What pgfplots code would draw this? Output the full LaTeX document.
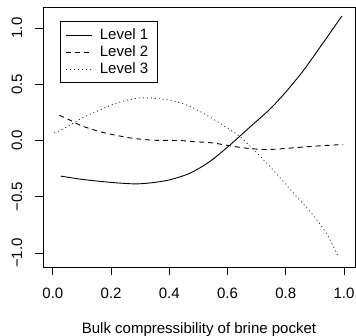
\documentclass[border=0pt]{standalone}
\usepackage{pgfplots}
\pgfplotsset{compat=1.18}
\usepackage{fontspec}
\setmainfont{Liberation Sans}
\begin{document}
\fontsize{15bp}{17bp}\selectfont
\begin{tikzpicture}
\path[use as bounding box] (-43bp,-69bp) rectangle (313bp,267bp);
\begin{axis}[
  at={(0,0)}, anchor=south west,
  scale only axis, width=312bp, height=260bp,
  xmin=-0.034, xmax=1.038, ymin=-1.124, ymax=1.187,
  axis line style={line width=0.8bp},
  tick pos=left, tick align=outside,
  major tick length=8bp,
  every tick/.style={black, line width=0.8bp},
  xtick={0,0.2,0.4,0.6,0.8,1.0},
  xticklabels={0.0,0.2,0.4,0.6,0.8,1.0},
  ytick={-1,-0.5,0,0.5,1},
  yticklabels={−1.0,−0.5,0.0,0.5,1.0},
  xticklabel style={font=\fontsize{15bp}{17bp}\selectfont, anchor=center, yshift=-18bp},
  yticklabel style={font=\fontsize{15bp}{17bp}\selectfont, xshift=-18bp, rotate=90, anchor=center},
  xlabel={Bulk compressibility of brine pocket},
  xlabel style={font=\fontsize{15bp}{17bp}\selectfont, at={(axis description cs:0.5,0)}, anchor=base, yshift=-66bp},
  legend cell align=left,
  legend style={at={(rel axis cs:0.053,0.946)}, anchor=north west, draw=black, line width=0.8bp,
    font=\fontsize{15bp}{17bp}\selectfont, inner xsep=6bp, inner ysep=7bp, row sep=4bp, column sep=4bp,
    nodes={inner xsep=3bp, inner ysep=0bp}},
  legend image code/.code={\draw[#1] (0bp,0bp) -- (26bp,0bp);},
]
\addplot[black, line width=0.9bp, smooth] coordinates {
(0.027,-0.316) (0.10,-0.345) (0.20,-0.372) (0.28,-0.385) (0.333,-0.377) (0.40,-0.35)
(0.471,-0.29) (0.54,-0.185) (0.606,-0.045) (0.677,0.12) (0.746,0.28)
(0.803,0.44) (0.86,0.62) (0.918,0.83) (0.993,1.107)};
\addlegendentry{Level 1}
\addplot[black, line width=0.9bp, dash pattern=on 5bp off 4bp, smooth] coordinates {
(0.022,0.225) (0.06,0.18) (0.10,0.13) (0.16,0.08) (0.22,0.045) (0.275,0.02) (0.344,0.003)
(0.436,0.0) (0.482,-0.01) (0.545,-0.02) (0.606,-0.045) (0.665,-0.068) (0.734,-0.08) (0.80,-0.07)
(0.90,-0.05) (0.997,-0.035)};
\addlegendentry{Level 2}
\addplot[black!80, line width=0.9bp, dash pattern=on 1bp off 3bp, smooth] coordinates {
(0.005,0.067) (0.048,0.12) (0.10,0.2) (0.16,0.27) (0.22,0.335) (0.275,0.37) (0.32,0.38)
(0.40,0.36) (0.46,0.315) (0.515,0.245) (0.585,0.135) (0.643,0.034) (0.72,-0.16)
(0.78,-0.33) (0.838,-0.5) (0.88,-0.62) (0.92,-0.75) (0.95,-0.87) (0.98,-1.03)};
\addlegendentry{Level 3}
\end{axis}
\end{tikzpicture}
\end{document}
